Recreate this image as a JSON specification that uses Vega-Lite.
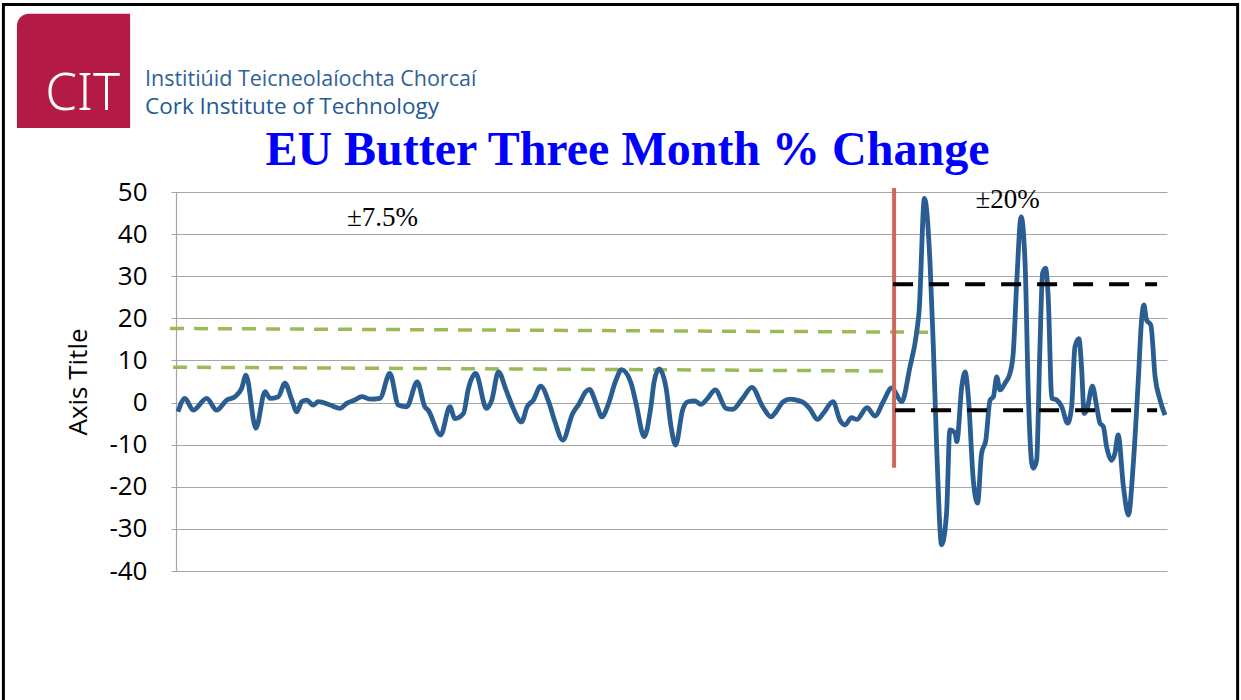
{
  "$schema": "https://vega.github.io/schema/vega-lite/v6.json",
  "autosize": {"type": "none"},
  "padding": {"left": 176, "top": 192, "right": 74, "bottom": 129},
  "width": 991,
  "height": 379,
  "background": "white",
  "datasets": {
    "series": [
      {"t": 0, "v": -2.2}, {"t": 2.1, "v": 1.0}, {"t": 4.6, "v": -1.8}, {"t": 8.7, "v": 1.0}, {"t": 11.7, "v": -1.8},
      {"t": 14.8, "v": 0.6}, {"t": 17.3, "v": 1.4}, {"t": 19.3, "v": 3.4}, {"t": 20.6, "v": 6.5}, {"t": 23.6, "v": -6.1},
      {"t": 26.4, "v": 2.6}, {"t": 27.9, "v": 1.0}, {"t": 30.4, "v": 1.4}, {"t": 32.4, "v": 4.6}, {"t": 34.5, "v": 0.6},
      {"t": 36.0, "v": -2.2}, {"t": 37.5, "v": 0.2}, {"t": 39.0, "v": 0.6}, {"t": 41.0, "v": -0.6}, {"t": 42.5, "v": 0.2},
      {"t": 46.1, "v": -0.6}, {"t": 49.1, "v": -1.4}, {"t": 51.1, "v": -0.2}, {"t": 53.6, "v": 0.6}, {"t": 55.7, "v": 1.4},
      {"t": 58.2, "v": 0.8}, {"t": 61.2, "v": 1.0}, {"t": 64.2, "v": 6.9}, {"t": 66.8, "v": -0.6}, {"t": 69.3, "v": -1.0},
      {"t": 72.5, "v": 4.9}, {"t": 74.8, "v": -1.0}, {"t": 75.8, "v": -1.8}, {"t": 79.6, "v": -7.7}, {"t": 82.4, "v": -1.0},
      {"t": 83.9, "v": -3.8}, {"t": 86.5, "v": -2.6}, {"t": 88.0, "v": 3.3}, {"t": 90.2, "v": 6.9}, {"t": 93.5, "v": -1.4},
      {"t": 95.1, "v": 0.6}, {"t": 97.1, "v": 7.3}, {"t": 99.4, "v": 3.0}, {"t": 101.4, "v": -1.0}, {"t": 104.1, "v": -4.6},
      {"t": 105.8, "v": -1.0}, {"t": 107.7, "v": 0.6}, {"t": 109.9, "v": 3.9}, {"t": 112.5, "v": -0.2}, {"t": 114.2, "v": -4.5},
      {"t": 116.6, "v": -8.9}, {"t": 119.6, "v": -2.6}, {"t": 121.6, "v": -0.2}, {"t": 123.6, "v": 2.6}, {"t": 124.7, "v": 3.1},
      {"t": 126.7, "v": -0.2}, {"t": 128.5, "v": -3.4}, {"t": 130.3, "v": -0.6}, {"t": 132.7, "v": 5.3}, {"t": 134.4, "v": 7.8},
      {"t": 137.3, "v": 4.6}, {"t": 138.8, "v": -0.2}, {"t": 141.3, "v": -8.1}, {"t": 143.3, "v": -1.0}, {"t": 144.3, "v": 5.0},
      {"t": 145.8, "v": 8.0}, {"t": 147.9, "v": 3.5}, {"t": 149.4, "v": -5.7}, {"t": 150.8, "v": -10.1}, {"t": 152.9, "v": -1.8},
      {"t": 154.5, "v": 0.2}, {"t": 156.5, "v": 0.4}, {"t": 158.5, "v": -0.4}, {"t": 160.5, "v": 1.0}, {"t": 162.8, "v": 3.0},
      {"t": 166.1, "v": -1.4}, {"t": 168.1, "v": -1.6}, {"t": 171.1, "v": 1.0}, {"t": 173.9, "v": 3.6}, {"t": 177.2, "v": -1.0},
      {"t": 179.7, "v": -3.4}, {"t": 181.2, "v": -2.2}, {"t": 183.4, "v": 0.2}, {"t": 185.5, "v": 0.8}, {"t": 188.3, "v": 0.4},
      {"t": 189.5, "v": 0.0}, {"t": 191.5, "v": -1.5}, {"t": 193.8, "v": -4.0}, {"t": 195.5, "v": -2.6}, {"t": 198.5, "v": 0.2},
      {"t": 200.6, "v": -4.2}, {"t": 202.1, "v": -5.3}, {"t": 204.1, "v": -3.6}, {"t": 205.7, "v": -4.0}, {"t": 208.8, "v": -1.2},
      {"t": 211.2, "v": -3.2}, {"t": 213.7, "v": 0.2}, {"t": 216.3, "v": 3.5}, {"t": 219.3, "v": 0.2}, {"t": 221.8, "v": 8.4},
      {"t": 223.8, "v": 16.4}, {"t": 224.6, "v": 21.9}, {"t": 226.2, "v": 48.5}, {"t": 227.9, "v": 33.0}, {"t": 228.9, "v": 13.2},
      {"t": 229.9, "v": -10.5}, {"t": 231.4, "v": -33.8}, {"t": 232.9, "v": -26.3}, {"t": 233.9, "v": -6.5}, {"t": 235.5, "v": -7.3},
      {"t": 236.0, "v": -9.3}, {"t": 237.5, "v": 3.7}, {"t": 238.5, "v": 7.3}, {"t": 239.5, "v": 1.4}, {"t": 241.0, "v": -18.4},
      {"t": 242.3, "v": -23.9}, {"t": 243.5, "v": -12.1}, {"t": 244.8, "v": -8.9}, {"t": 246.1, "v": 0.6}, {"t": 247.1, "v": 1.4},
      {"t": 248.1, "v": 6.1}, {"t": 249.1, "v": 3.0}, {"t": 250.6, "v": 4.6}, {"t": 252.1, "v": 6.9}, {"t": 253.1, "v": 11.7},
      {"t": 254.2, "v": 29.1}, {"t": 255.5, "v": 44.1}, {"t": 256.7, "v": 33.0}, {"t": 257.7, "v": 1.4}, {"t": 258.7, "v": -14.4},
      {"t": 259.2, "v": -15.6}, {"t": 260.2, "v": -13.7}, {"t": 261.2, "v": 13.2}, {"t": 262.0, "v": 30.7}, {"t": 262.9, "v": 31.9},
      {"t": 263.7, "v": 25.1}, {"t": 264.8, "v": 1.0}, {"t": 266.3, "v": 0.6}, {"t": 267.8, "v": -1.0}, {"t": 269.6, "v": -4.9},
      {"t": 270.8, "v": -1.0}, {"t": 271.8, "v": 13.2}, {"t": 273.0, "v": 15.2}, {"t": 273.8, "v": 8.5}, {"t": 274.6, "v": -2.6},
      {"t": 275.4, "v": -1.8}, {"t": 277.1, "v": 3.9}, {"t": 278.4, "v": -1.0}, {"t": 279.4, "v": -4.9}, {"t": 280.4, "v": -5.7},
      {"t": 281.4, "v": -10.5}, {"t": 282.9, "v": -13.7}, {"t": 283.9, "v": -12.1}, {"t": 284.9, "v": -7.7}, {"t": 286.5, "v": -20.0},
      {"t": 288.0, "v": -26.7}, {"t": 289.5, "v": -14.4}, {"t": 291.0, "v": 5.3}, {"t": 292.0, "v": 19.6}, {"t": 292.7, "v": 23.2},
      {"t": 293.5, "v": 19.6}, {"t": 294.8, "v": 18.4}, {"t": 296.1, "v": 6.1}, {"t": 297.6, "v": 0.6}, {"t": 299.1, "v": -3.0}
    ],
    "green": [
      {"g": "upper", "t": -2.4, "v": 17.6}, {"g": "upper", "t": 227.9, "v": 16.7},
      {"g": "lower", "t": -1.5, "v": 8.4}, {"g": "lower", "t": 214.2, "v": 7.5}
    ],
    "black": [
      {"g": "upper", "t": 216.7, "v": 28.1}, {"g": "upper", "t": 296.7, "v": 28.1},
      {"g": "lower", "t": 217.3, "v": -1.8}, {"g": "lower", "t": 296.7, "v": -1.8}
    ],
    "divider": [{"t": 217.0, "v": 50.95, "v2": -15.5}],
    "bands": [{"label": "±7.5%", "t": 62.0, "v": 41.9}, {"label": "±20%", "t": 251.4, "v": 46.2}],
    "title": [{"label": "EU Butter Three Month % Change", "t": 136.2, "v": 56.4}],
    "logo": [{"t": -48.8, "t2": -14.5, "v": 92.3, "v2": 65.2}],
    "logotext": [{"label": "CIT", "t": -28.9, "v": 69.5}],
    "irish": [{"label": "Institiúid Teicneolaíochta Chorcaí", "t": -10.0, "v": 75.2}],
    "english": [{"label": "Cork Institute of Technology", "t": -10.0, "v": 68.6}],
    "frame": [{"t": -52.9, "t2": 321.1, "v": 94.5, "v2": -84.9}]
  },
  "encoding": {
    "x": {"field": "t", "type": "quantitative", "scale": {"domain": [-0.6, 299.7], "nice": false, "zero": false}, "axis": null},
    "y": {
      "field": "v", "type": "quantitative",
      "scale": {"domain": [-40, 50], "nice": false, "zero": false},
      "title": "Axis Title",
      "axis": {
        "values": [-40, -30, -20, -10, 0, 10, 20, 30, 40, 50],
        "labelExpr": "datum.value + ''",
        "grid": true, "gridColor": "#A6A6A6", "gridWidth": 1.2,
        "domainColor": "#A6A6A6", "domainWidth": 1.2,
        "tickColor": "#A6A6A6", "tickSize": 5,
        "labelFont": "Open Sans", "labelFontSize": 26, "labelColor": "#000000", "labelPadding": 24,
        "titleFont": "Open Sans", "titleFontSize": 26, "titleFontWeight": "normal", "titleColor": "#000000",
        "titleX": -98, "titleBaseline": "middle"
      }
    }
  },
  "layer": [
    {
      "data": {"name": "frame"},
      "mark": {"type": "rect", "fill": null, "fillOpacity": 0, "stroke": "#000000", "strokeWidth": 3},
      "encoding": {"x2": {"field": "t2"}, "y2": {"field": "v2"}}
    },
    {
      "data": {"name": "logo"},
      "mark": {"type": "rect", "color": "#B31B46", "cornerRadiusTopLeft": 12},
      "encoding": {"x2": {"field": "t2"}, "y2": {"field": "v2"}}
    },
    {
      "data": {"name": "logotext"},
      "mark": {"type": "text", "font": "Noto Sans", "fontSize": 51, "fontWeight": 300, "color": "#FFFFFF", "align": "center", "baseline": "alphabetic", "letterSpacing": -4},
      "encoding": {"text": {"field": "label"}}
    },
    {
      "data": {"name": "irish"},
      "mark": {"type": "text", "font": "Open Sans", "fontSize": 21.5, "color": "#2E6199", "align": "left", "baseline": "alphabetic"},
      "encoding": {"text": {"field": "label"}}
    },
    {
      "data": {"name": "english"},
      "mark": {"type": "text", "font": "Open Sans", "fontSize": 22.5, "fontWeight": 500, "color": "#235A94", "align": "left", "baseline": "alphabetic"},
      "encoding": {"text": {"field": "label"}}
    },
    {
      "data": {"name": "title"},
      "mark": {"type": "text", "font": "Liberation Serif", "fontSize": 48, "fontWeight": "bold", "color": "#0000FF", "align": "center", "baseline": "alphabetic"},
      "encoding": {"text": {"field": "label"}}
    },
    {
      "data": {"name": "bands"},
      "mark": {"type": "text", "font": "Liberation Serif", "fontSize": 27, "color": "#000000", "align": "center", "baseline": "alphabetic"},
      "encoding": {"text": {"field": "label"}}
    },
    {
      "data": {"name": "green"},
      "mark": {"type": "line", "color": "#9BBB59", "strokeWidth": 3.5, "strokeDash": [14, 10]},
      "encoding": {"detail": {"field": "g"}}
    },
    {
      "data": {"name": "series"},
      "mark": {"type": "line", "color": "#2A5E92", "strokeWidth": 4.8, "interpolate": "monotone"},
      "encoding": {}
    },
    {
      "data": {"name": "divider"},
      "mark": {"type": "rule", "color": "#D0675F", "strokeWidth": 4},
      "encoding": {"y2": {"field": "v2"}}
    },
    {
      "data": {"name": "black"},
      "mark": {"type": "line", "color": "#000000", "strokeWidth": 4, "strokeDash": [20, 16]},
      "encoding": {"detail": {"field": "g"}}
    }
  ],
  "config": {"view": {"stroke": null}}
}
